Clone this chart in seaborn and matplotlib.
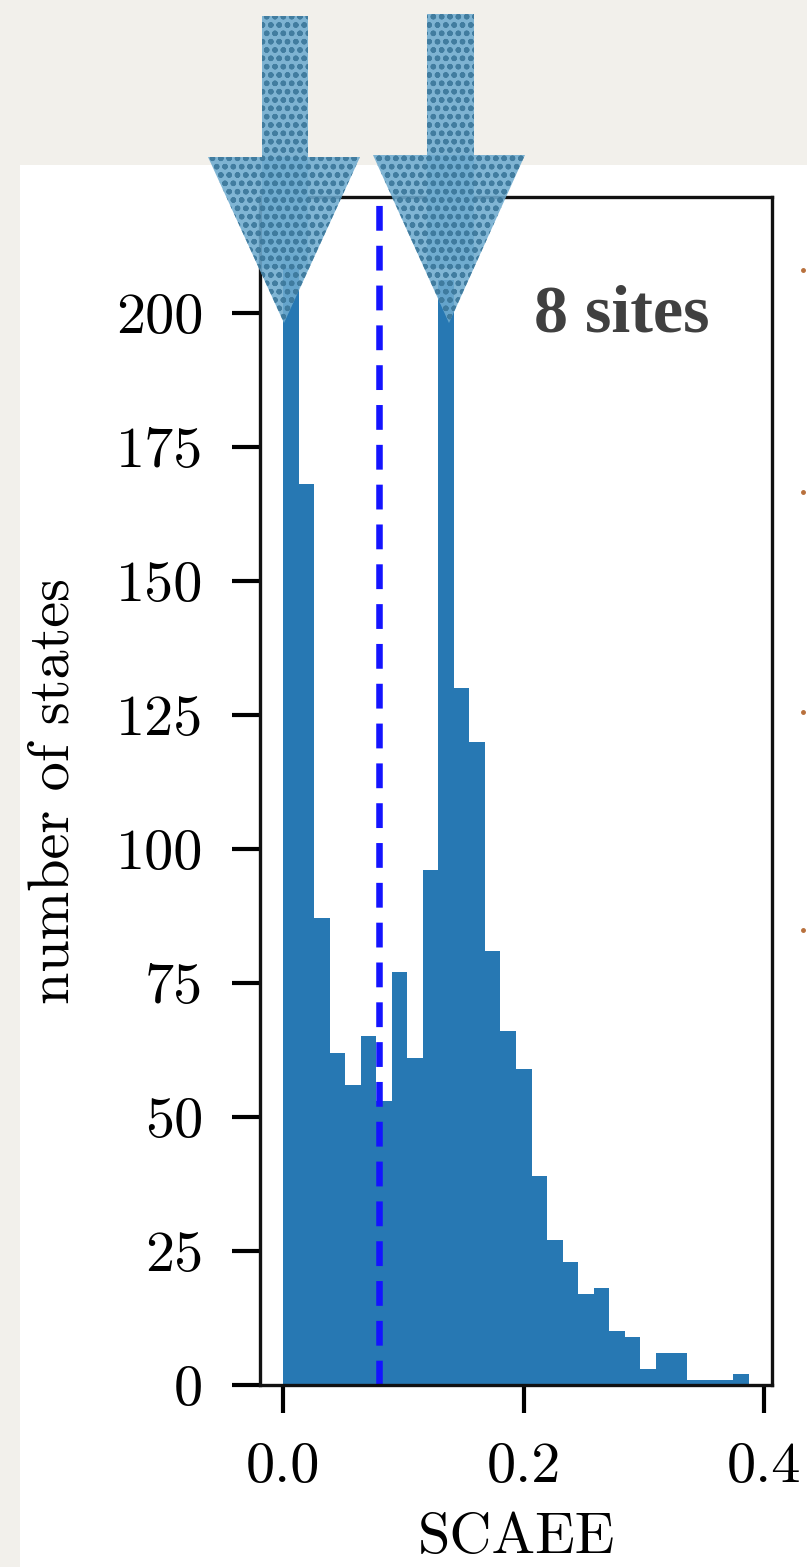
import numpy as np
import pandas as pd
import matplotlib
matplotlib.use("Agg")
import matplotlib.pyplot as plt
import seaborn as sns
from matplotlib.patches import Polygon, Rectangle
from matplotlib.lines import Line2D

# ---------------- data ----------------
bin_start = 0.0
bin_end = 0.3875
counts = [211, 168, 87, 62, 56, 65, 53, 77, 61, 96,
          206, 130, 120, 81, 66, 59, 39, 27, 23, 17,
          18, 10, 9, 3, 6, 6, 1, 1, 1, 2]
mean_scaee = 0.08
xtick_values = [0.0, 0.2, 0.4]
xtick_labels = ["0.0", "0.2", "0.4"]
ytick_values = [0, 25, 50, 75, 100, 125, 150, 175, 200]
ytick_labels = ["0", "25", "50", "75", "100", "125", "150", "175", "200"]
x_label = "SCAEE"
y_label = "number of states"
annotation_text = "8 sites"

# ---------------- style ----------------
W, H, DPI = 807, 1567, 100
sns.set_theme(style="ticks")
plt.rcParams["font.family"] = ["cmr10", "DejaVu Serif"]
plt.rcParams["axes.formatter.use_mathtext"] = True
plt.rcParams["hatch.linewidth"] = 1.6

BAR_COLOR = "#2778b3"
BG = "#f2f0eb"

fig = plt.figure(figsize=(W / DPI, H / DPI), dpi=DPI, facecolor=BG)

def fx(px):
    return px / W

def fy(py):
    return 1 - py / H

# white slide panel
fig.add_artist(Rectangle((fx(20), 0), 1 - fx(20), fy(165), transform=fig.transFigure,
                         facecolor="white", edgecolor="none", zorder=-10))

ax = fig.add_axes([fx(260), fy(1385), fx(772) - fx(260), fy(197) - fy(1385)])
ax.set_facecolor("white")

nbins = len(counts)
width = (bin_end - bin_start) / nbins
centers = [bin_start + (i + 0.5) * width for i in range(nbins)]
df = pd.DataFrame({"scaee": centers, "n": counts})
sns.histplot(data=df, x="scaee", weights="n", bins=nbins, binrange=(bin_start, bin_end),
             color=BAR_COLOR, alpha=1.0, linewidth=0, edgecolor="none", ax=ax)

ax.axvline(mean_scaee, color="#1414ff", lw=4.7, dashes=(3.8, 2.3))

span = bin_end - bin_start
ax.set_xlim(bin_start - 0.05 * span, bin_end + 0.05 * span)
ax.set_ylim(0, max(counts) * 1.05)

ax.set_xticks(xtick_values)
ax.set_xticklabels(xtick_labels)
ax.set_yticks(ytick_values)
ax.set_yticklabels(ytick_labels)
ax.tick_params(axis="both", direction="out", length=20, width=3, pad=21,
               labelsize=42, color="black", labelcolor="black")

for s in ax.spines.values():
    s.set_visible(True)
    s.set_linewidth(2.4)
    s.set_color("#111111")

ax.set_xlabel(x_label, fontsize=42, color="black")
ax.set_ylabel(y_label, fontsize=42, color="black")
ax.xaxis.set_label_coords(0.5, (1385 - 1513) / 1188)
ax.yaxis.set_label_coords((80 - 260) / 512, 0.5)

# annotation text
fig.text(fx(534), fy(332), annotation_text, fontfamily="Liberation Serif",
         fontweight="bold", fontsize=49, color="#404040", ha="left", va="baseline")

# hatched arrows
arrow_kw = dict(transform=fig.transFigure, facecolor="#6eabcf", edgecolor="#3a7699",
                linewidth=0, hatch="oo", alpha=0.88, zorder=10)
for (sx0, sx1, top, hx0, hx1, base, tipx, tipy) in [
        (262, 308, 16, 208, 360, 157, 284, 323),
        (427, 474, 14, 373, 525, 155, 449, 323)]:
    fig.add_artist(Polygon([(fx(sx0), fy(top)), (fx(sx1), fy(top)),
                            (fx(sx1), fy(268)), (fx(sx0), fy(268))], **arrow_kw))
    fig.add_artist(Polygon([(fx(hx0), fy(base)), (fx(hx1), fy(base)),
                            (fx(tipx), fy(tipy))], **arrow_kw))

# fragments of neighbouring panel at right edge
for yy in [270, 492, 712, 930]:
    fig.add_artist(Line2D([fx(803)], [fy(yy)], transform=fig.transFigure,
                          marker="o", markersize=2.5, color="#b8703c", lw=0))

fig.savefig("out.png", dpi=DPI, facecolor=BG)
